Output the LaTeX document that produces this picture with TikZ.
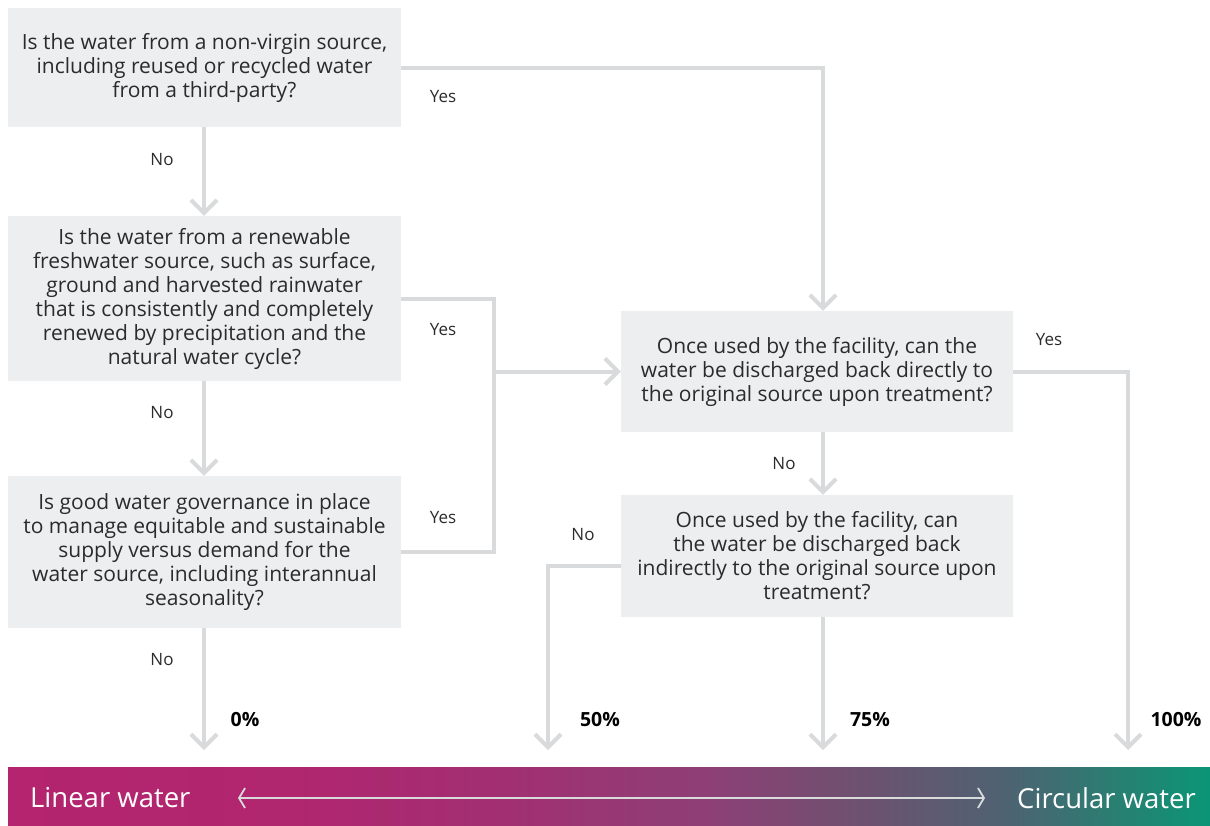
\documentclass[tikz,border=0pt]{standalone}
\usepackage{fontspec}
\setmainfont{Open Sans}
\usetikzlibrary{arrows.meta}
\definecolor{boxgray}{HTML}{EDEEEF}
\definecolor{linegray}{HTML}{D9DADB}
\definecolor{textgray}{HTML}{2B2B2B}
\definecolor{barA}{HTML}{B4246F}
\definecolor{barB}{HTML}{B0266F}
\definecolor{barC}{HTML}{A22F72}
\definecolor{barD}{HTML}{8E3F76}
\definecolor{barE}{HTML}{705070}
\definecolor{barF}{HTML}{4E6272}
\definecolor{barG}{HTML}{2A7E72}
\definecolor{barH}{HTML}{0A9676}
\pgfdeclarehorizontalshading{waterbar}{100bp}{color(0bp)=(barA); color(25bp)=(barA); color(37bp)=(barB); color(45.5bp)=(barC); color(54bp)=(barD); color(60bp)=(barE); color(66.5bp)=(barF); color(71bp)=(barG); color(75bp)=(barH); color(100bp)=(barH)}
\tikzset{
  qbox/.style={fill=boxgray, text=textgray, align=center, inner sep=0pt, minimum width=393pt, font=\fontsize{21}{24}\selectfont},
  flow/.style={draw=linegray, line width=4pt, -{Straight Barb[length=13pt,width=26pt]}},
  lbl/.style={text=textgray, font=\fontsize{17}{20}\selectfont},
  pct/.style={text=black, font=\bfseries\fontsize{19.5}{20}\selectfont},
  endtext/.style={text=white, inner sep=0pt, font=\fontsize{27.5}{28}\selectfont},
}
\begin{document}
\begin{tikzpicture}[x=1pt,y=-1pt]
\useasboundingbox (0,0) rectangle (1210,825);
\node[qbox, minimum height=119pt] (q1) at (204.5,67.5) {Is the water from a non-virgin source,\\including reused or recycled water\\from a third-party?};
\node[qbox, minimum height=165pt] (q2) at (204.5,298.5) {Is the water from a renewable\\freshwater source, such as surface,\\ground and harvested rainwater\\that is consistently and completely\\renewed by precipitation and the\\natural water cycle?};
\node[qbox, minimum height=152pt] (q3) at (204.5,552) {Is good water governance in place\\to manage equitable and sustainable\\supply versus demand for the\\water source, including interannual\\seasonality?};
\node[qbox, minimum width=392pt, minimum height=121pt] (q4) at (817,371.5) {Once used by the facility, can the\\water be discharged back directly to\\the original source upon treatment?};
\node[qbox, minimum width=392pt, minimum height=122pt] (q5) at (817,556) {Once used by the facility, can\\the water be discharged back\\indirectly to the original source upon\\treatment?};
\coordinate (p0) at (204,750);
\coordinate (p50) at (548,750);
\coordinate (p75) at (823,750);
\coordinate (p100) at (1128,750);
\coordinate (join) at (494,371.5);
\coordinate (left50) at (548,566);
\draw[flow] (q1.south -| p0) -- (q2.north -| p0);
\draw[flow] (q2.south -| p0) -- (q3.north -| p0);
\draw[flow] (q3.south -| p0) -- (p0);
\draw[flow] (q1.east) -| (q4.north -| p75);
\draw[draw=linegray, line width=4pt] (q2.east) -| (join) |- (q3.east);
\draw[flow] (join) -- (q4.west);
\draw[flow] (q4.east) -| (p100);
\draw[flow] (q4.south -| p75) -- (q5.north -| p75);
\draw[flow] (q5.south -| p75) -- (p75);
\draw[flow] (q5.west |- left50) -| (p50);
\node[lbl] (yes1) at (443,97) {Yes};
\node[lbl] (no1) at (162,160) {No};
\node[lbl] (yes2) at (443,330) {Yes};
\node[lbl] (no2) at (162,413) {No};
\node[lbl] (yes3) at (443,518) {Yes};
\node[lbl] (no3) at (162,660) {No};
\node[lbl] (yes4) at (1049,340) {Yes};
\node[lbl] (no4) at (784,464) {No};
\node[lbl] (no5) at (583,535) {No};
\node[pct] (pct0) at (245,720) {0\%};
\node[pct] (pct50) at (600,720) {50\%};
\node[pct] (pct75) at (870,720) {75\%};
\node[pct] (pct100) at (1176,720) {100\%};
\shade[shading=waterbar] (8,767) rectangle (1210,825);
\node[endtext, anchor=west] (linear) at (30,798) {Linear water};
\node[endtext, anchor=east] (circular) at (1196,798) {Circular water};
\coordinate (arrl) at (238,798);
\coordinate (arrr) at (985,798);
\draw[draw=linegray, line width=1.8pt, {Straight Barb[length=6pt,width=20pt]}-{Straight Barb[length=6pt,width=20pt]}] (arrl) -- (arrr);
\end{tikzpicture}
\end{document}
